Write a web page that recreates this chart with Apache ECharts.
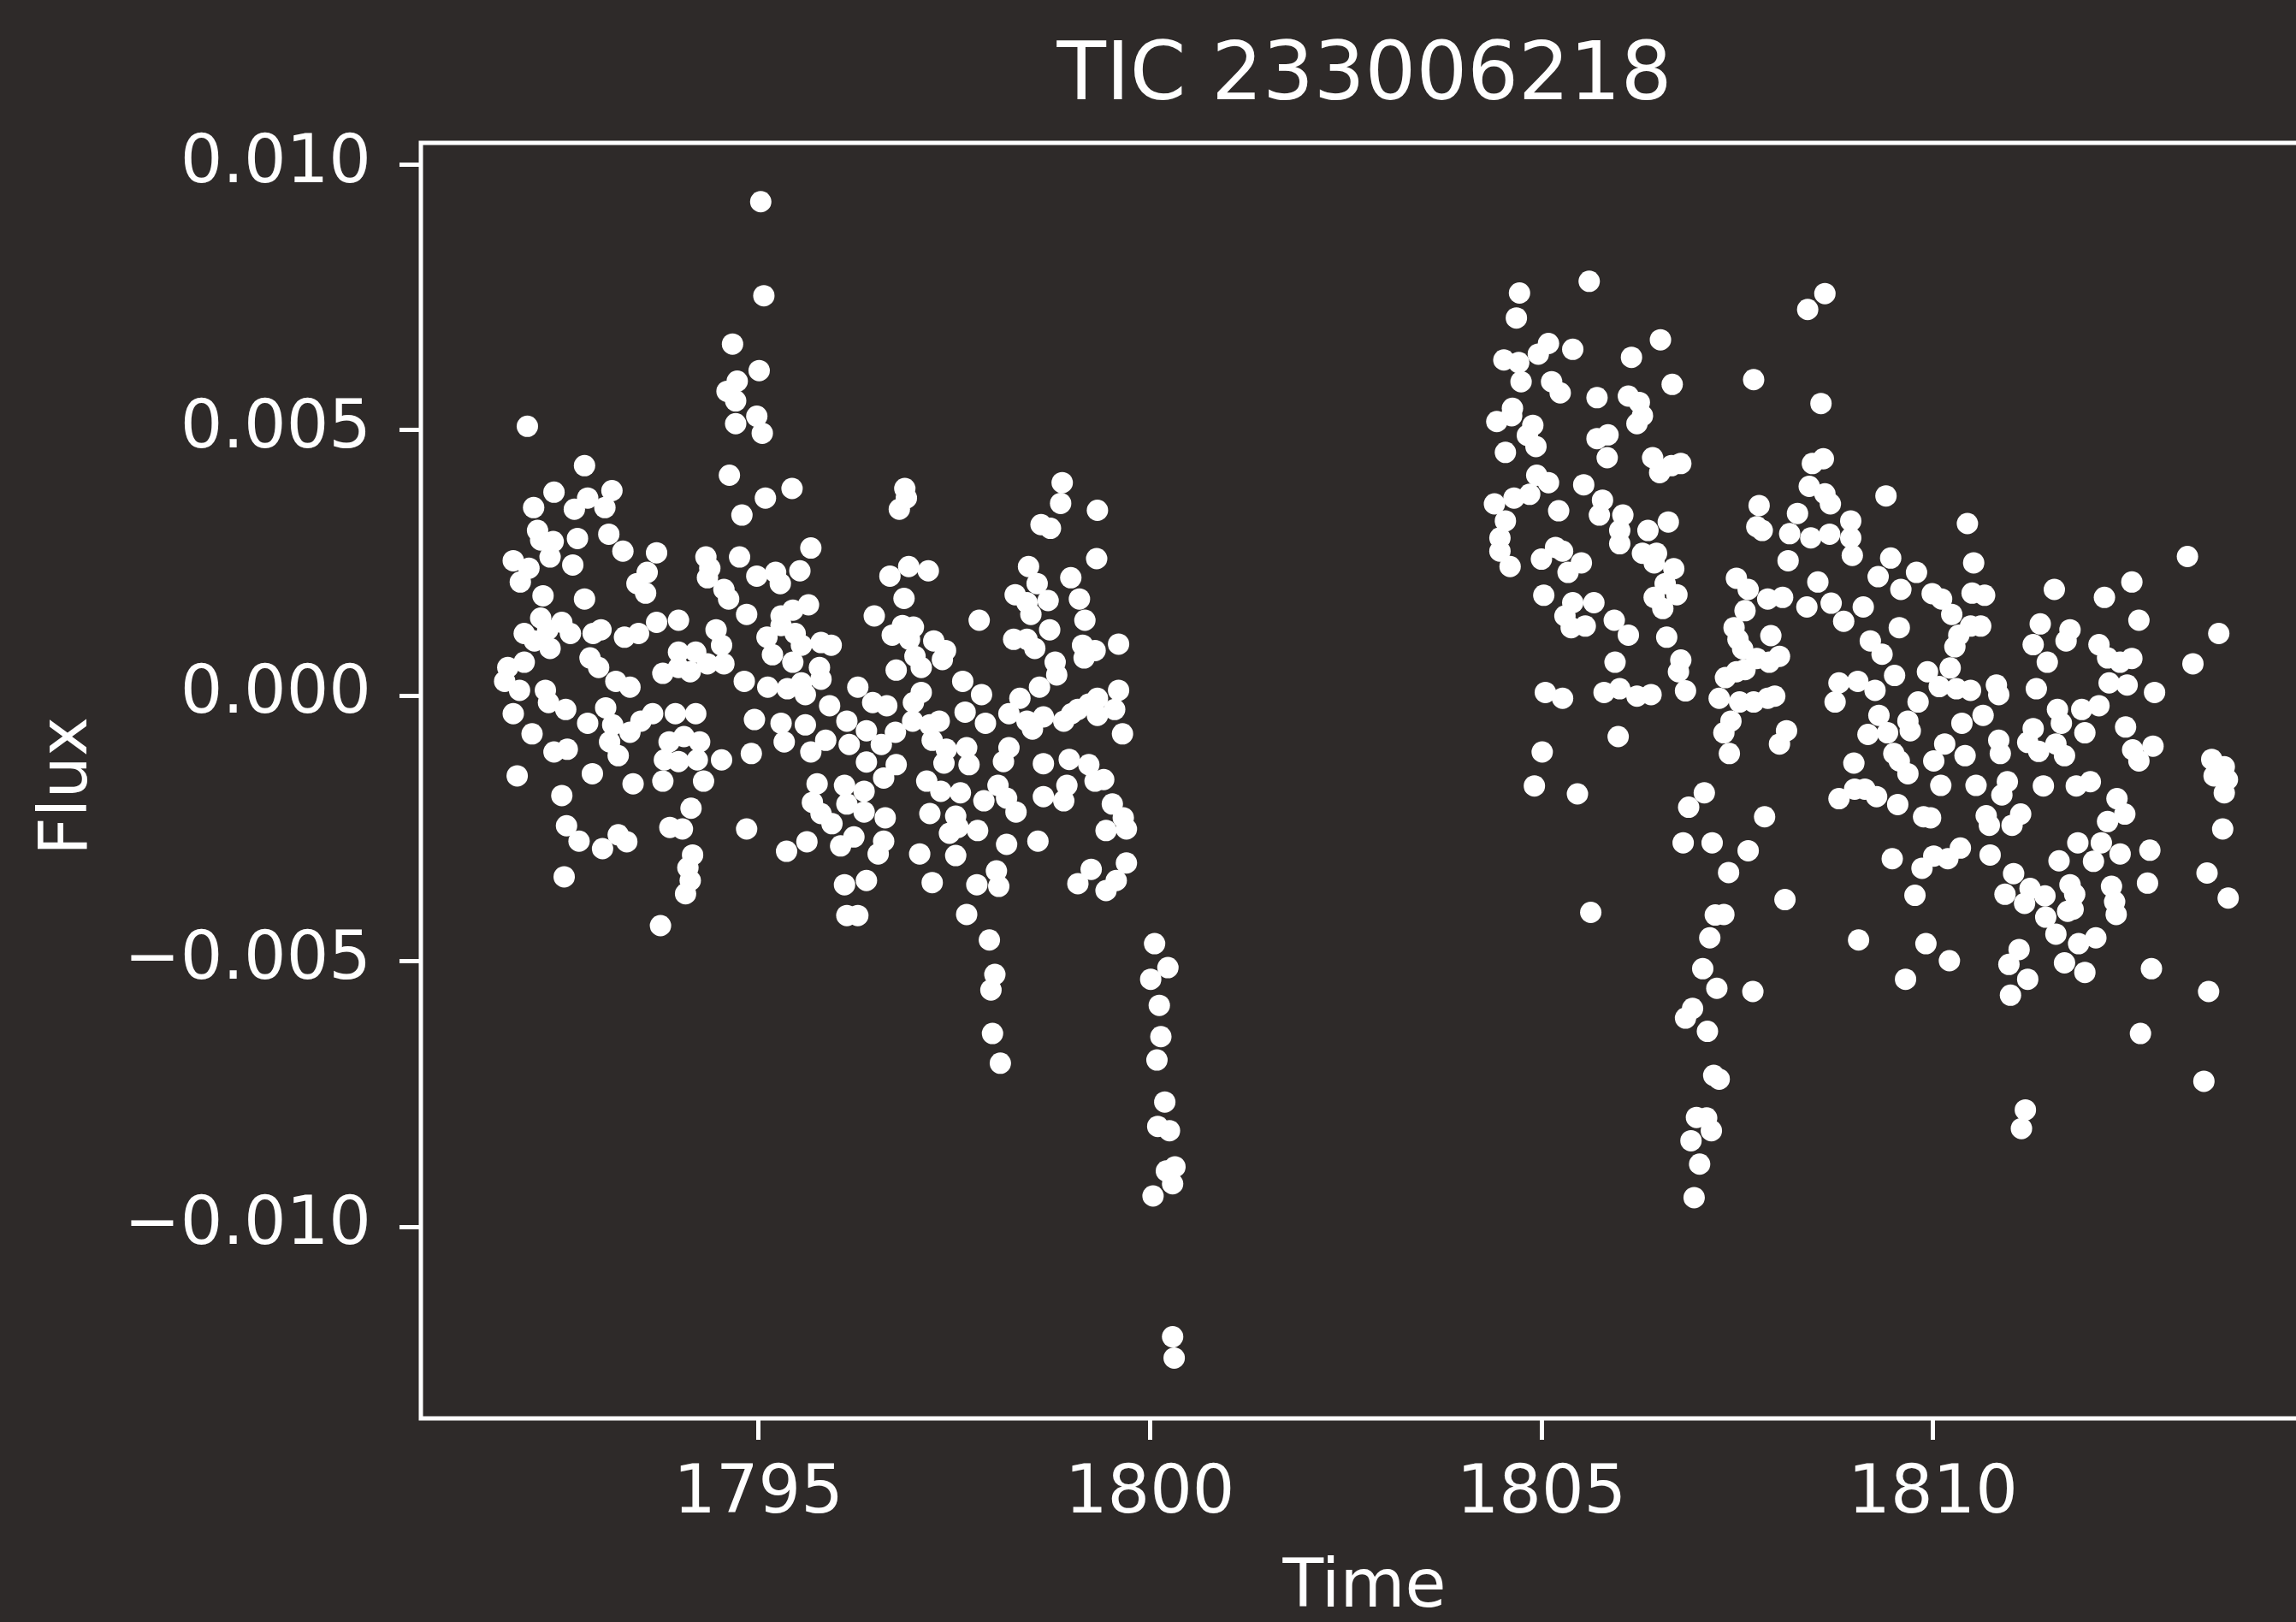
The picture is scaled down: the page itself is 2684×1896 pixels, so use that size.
<!DOCTYPE html>
<html>
<head>
<meta charset="utf-8">
<script src="https://cdn.jsdelivr.net/npm/echarts@6/dist/echarts.min.js"></script>
<style>
  html, body { margin: 0; padding: 0; background: #2e2a29; overflow: hidden; }
  #main { width: 2720px; height: 1896px; }
</style>
</head>
<body>
<div id="main"></div>
<script>
// ---- Data (Time, Flux) ----
const chartTitle = 'TIC 233006218';
const xTickValues = [1795, 1800, 1805, 1810];
const yTickValues = [-0.01, -0.005, 0, 0.005, 0.01];

// first orbit
const orbit1 = [
[1795.03,0.0093],[1795.07,0.00753],[1794.67,0.00662],[1795.01,0.00612],[1794.60,0.00573],[1794.73,0.00592],
[1794.71,0.00555],[1794.98,0.00526],[1794.71,0.00512],[1795.05,0.00494],[1792.05,0.00507],[1794.63,0.00415],
[1795.09,0.00372],[1795.43,0.00390],[1794.79,0.00340],[1792.78,0.00433],[1792.39,0.00383],[1792.13,0.00354],
[1792.65,0.00351],[1792.82,0.00372],[1793.13,0.00386],[1793.04,0.00354],[1792.18,0.00311],[1792.22,0.00293],
[1792.38,0.00290],[1792.34,0.00261],[1792.69,0.00296],[1793.09,0.00304],[1793.27,0.00272],[1793.70,0.00269],
[1791.87,0.00254],[1792.07,0.00240],[1791.96,0.00214],[1792.63,0.00246],[1793.58,0.00232],[1793.45,0.00211],
[1793.56,0.00193],[1794.33,0.00261],[1794.38,0.00240],[1794.35,0.00222],[1794.76,0.00261],[1794.56,0.00200],
[1794.62,0.00182],[1794.98,0.00225],[1795.22,0.00232],[1795.28,0.00211],[1795.53,0.00235],[1795.67,0.00278],
[1792.25,0.00188],[1792.78,0.00182],[1794.85,0.00153],[1795.64,0.00171],[1795.44,0.00161],[1795.29,0.00150],
[1792.01,0.00117],[1792.22,0.00146],[1792.31,0.00124],[1792.49,0.00138],[1792.60,0.00117],[1792.34,0.00089],
[1792.14,0.00103],[1792.89,0.00117],[1792.99,0.00124],[1793.29,0.00110],[1793.47,0.00117],[1793.70,0.00138],
[1793.98,0.00142],[1794.46,0.00124],[1794.53,0.00095],[1793.98,0.00082],[1794.20,0.00082],[1794.35,0.00060],
[1794.56,0.00060],[1793.78,0.00042],[1793.98,0.00053],[1794.13,0.00045],[1795.11,0.00110],[1795.29,0.00132],
[1795.47,0.00117],[1795.55,0.00095],[1795.18,0.00077],[1795.44,0.00063],[1795.80,0.00100],[1795.93,0.00095],
[1795.78,0.00053],[1795.80,0.00031],[1791.80,0.00053],[1792.01,0.00063],[1791.76,0.00027],[1791.95,0.00010],
[1792.28,0.00010],[1792.32,-0.00013],[1792.54,-0.00026],[1792.85,0.00071],[1792.96,0.00053],[1793.18,0.00027],
[1793.36,0.00016],[1794.82,0.00027],[1795.12,0.00016],[1795.37,0.00013],[1795.55,0.00024],[1795.60,0.00002],
[1791.87,-0.00034],[1792.11,-0.00072],[1792.39,-0.00106],[1792.56,-0.00101],[1792.82,-0.00052],[1793.05,-0.00023],
[1793.14,-0.00055],[1793.10,-0.00087],[1793.21,-0.00113],[1793.36,-0.00069],[1793.50,-0.00048],[1793.65,-0.00034],
[1793.94,-0.00034],[1794.20,-0.00034],[1793.86,-0.00087],[1794.05,-0.00077],[1794.25,-0.00087],[1793.80,-0.00121],
[1793.98,-0.00124],[1794.22,-0.00121],[1794.53,-0.00121],[1794.95,-0.00045],[1795.29,-0.00052],[1795.33,-0.00087],
[1795.60,-0.00055],[1794.91,-0.00109],[1795.67,-0.00106],[1795.86,-0.00084],[1795.91,-0.00019],
[1796.87,0.00390],[1796.89,0.00372],[1796.80,0.00351],[1798.88,0.00401],[1798.86,0.00362],[1799.33,0.00349],
[1798.61,0.00322],[1798.73,0.00315],[1799.32,0.00258],[1796.68,0.00225],[1796.92,0.00243],[1797.17,0.00235],
[1798.45,0.00243],[1798.56,0.00211],[1798.99,0.00222],[1796.86,0.00183],[1796.48,0.00150],[1797.82,0.00142],
[1798.28,0.00190],[1798.43,0.00175],[1798.48,0.00153],[1798.70,0.00179],[1799.10,0.00182],[1799.17,0.00142],
[1798.72,0.00124],[1796.71,0.00114],[1796.84,0.00132],[1796.98,0.00129],[1796.93,0.00106],[1797.24,0.00103],
[1797.39,0.00085],[1797.35,0.00068],[1798.26,0.00106],[1798.43,0.00106],[1798.53,0.00089],[1799.14,0.00095],
[1799.30,0.00085],[1799.16,0.00071],[1799.60,0.00097],[1797.00,0.00074],[1797.08,0.00053],[1796.76,0.00048],
[1798.79,0.00063],[1798.81,0.00039],[1798.59,0.00016],[1796.27,0.00016],[1796.46,-0.00013],[1796.64,-0.00019],
[1797.08,0.00006],[1796.98,-0.00013],[1797.61,0.00027],[1797.85,0.00002],[1797.64,-0.00031],[1797.90,-0.00052],
[1798.34,-0.00005],[1798.20,-0.00034],[1798.50,-0.00052],[1798.64,-0.00040],[1799.08,-0.00026],[1799.33,-0.00005],
[1799.22,-0.00016],[1799.60,0.00010],[1799.55,-0.00026],[1799.33,-0.00037],[1799.65,-0.00072],[1796.13,-0.00048],
[1796.38,-0.00066],[1796.16,-0.00092],[1796.57,-0.00092],[1796.75,-0.00069],[1796.97,-0.00048],[1797.19,-0.00055],
[1797.31,-0.00048],[1797.22,-0.00084],[1797.40,-0.00101],[1797.66,-0.00098],[1798.20,-0.00098],[1798.50,-0.00063],
[1798.43,-0.00048],[1798.90,-0.00048],[1799.00,-0.00034],[1796.38,-0.00125],[1796.76,-0.00130],[1797.37,-0.00127],
[1797.69,-0.00130],[1798.13,-0.00124],[1798.64,-0.00128],[1798.97,-0.00120],[1799.22,-0.00130],
[1791.92,-0.00151],[1792.88,-0.00147],[1793.40,-0.00166],[1793.78,-0.00161],[1794.30,-0.00161],[1792.49,-0.00188],
[1792.55,-0.00245],[1792.71,-0.00274],[1793.01,-0.00288],[1793.21,-0.00262],[1793.32,-0.00275],[1792.52,-0.00341],
[1794.14,-0.00212],[1793.87,-0.00248],[1794.03,-0.00251],[1794.16,-0.00300],[1794.10,-0.00324],[1794.13,-0.00348],
[1794.07,-0.00373],[1793.75,-0.00433],[1794.85,-0.00251],[1795.36,-0.00293],[1795.62,-0.00275],[1795.75,-0.00166],
[1795.69,-0.00201],[1795.80,-0.00222],[1795.94,-0.00241],
[1796.10,-0.00169],[1796.13,-0.00204],[1796.05,-0.00283],[1796.22,-0.00266],[1796.10,-0.00356],[1796.38,-0.00348],
[1796.13,-0.00414],[1796.27,-0.00414],[1796.35,-0.00180],[1796.60,-0.00155],[1796.35,-0.00219],[1796.62,-0.00230],
[1796.60,-0.00274],[1796.53,-0.00298],[1797.06,-0.00298],[1797.22,-0.00352],[1797.15,-0.00161],[1797.33,-0.00180],
[1797.58,-0.00183],[1797.19,-0.00222],[1797.52,-0.00227],[1797.44,-0.00259],[1797.55,-0.00248],[1797.80,-0.00254],
[1797.52,-0.00301],[1797.88,-0.00198],[1798.06,-0.00169],[1798.17,-0.00193],[1798.29,-0.00219],[1798.17,-0.00280],
[1798.57,-0.00274],[1798.64,-0.00190],[1798.90,-0.00198],[1798.94,-0.00169],[1799.30,-0.00161],[1799.41,-0.00158],
[1799.52,-0.00204],[1799.66,-0.00230],[1799.70,-0.00251],[1799.44,-0.00254],[1798.04,-0.00330],[1798.07,-0.00359],
[1797.79,-0.00356],[1797.66,-0.00412],[1797.95,-0.00460],[1798.02,-0.00525],[1797.97,-0.00554],[1797.99,-0.00636],
[1798.09,-0.00692],[1799.08,-0.00354],[1799.25,-0.00327],[1799.44,-0.00367],[1799.57,-0.00348],[1799.70,-0.00315],
[1800.06,-0.00467],[1800.23,-0.00512],[1800.01,-0.00534],[1800.12,-0.00583],[1800.14,-0.00642],[1800.09,-0.00686],
[1800.19,-0.00765],[1800.10,-0.00811],[1800.25,-0.00819],[1800.32,-0.00887],[1800.21,-0.00895],[1800.29,-0.00919],
[1800.04,-0.00942],[1800.29,-0.01207],[1800.31,-0.01247]
];

// second orbit
const orbit2 = [
[1804.72,0.00758],[1804.68,0.00711],[1805.61,0.00780],[1806.52,0.00670],[1806.15,0.00637],[1805.40,0.00652],
[1805.09,0.00663],[1804.96,0.00643],[1804.52,0.00632],[1804.71,0.00627],[1804.74,0.00591],[1805.13,0.00591],
[1805.24,0.00570],[1805.71,0.00561],[1806.11,0.00564],[1806.25,0.00552],[1806.29,0.00527],[1806.22,0.00512],
[1806.67,0.00586],[1804.63,0.00541],[1804.43,0.00516],[1804.62,0.00527],[1804.89,0.00509],[1804.93,0.00469],
[1804.82,0.00490],[1804.54,0.00458],[1805.71,0.00484],[1805.85,0.00491],[1805.84,0.00448],[1806.42,0.00448],
[1806.51,0.00420],[1806.78,0.00437],[1806.66,0.00433],[1804.94,0.00415],[1805.09,0.00401],[1805.54,0.00397],
[1804.40,0.00361],[1804.65,0.00372],[1804.85,0.00379],[1804.54,0.00329],[1804.47,0.00297],[1804.47,0.00272],
[1804.60,0.00243],[1805.22,0.00348],[1805.78,0.00368],[1805.74,0.00340],[1806.04,0.00340],[1806.00,0.00311],
[1806.00,0.00286],[1806.36,0.00311],[1806.62,0.00327],[1806.29,0.00268],[1806.47,0.00268],[1806.44,0.00250],
[1806.69,0.00239],[1806.58,0.00211],[1806.73,0.00190],[1806.44,0.00185],[1806.55,0.00164],[1805.00,0.00257],
[1805.18,0.00279],[1805.27,0.00272],[1805.34,0.00232],[1805.51,0.00250],[1805.03,0.00189],[1805.40,0.00175],
[1805.30,0.00150],[1805.38,0.00128],[1805.56,0.00131],[1805.67,0.00175],[1805.93,0.00142],[1806.11,0.00114],
[1806.60,0.00110],[1805.94,0.00063],[1806.78,0.00067],[1806.75,0.00045],[1806.84,0.00009],[1805.05,0.00006],
[1805.27,-0.00005],[1805.80,0.00006],[1806.00,0.00013],[1806.22,-0.00001],[1806.40,0.00002],[1805.98,-0.00077],
[1805.01,-0.00106],[1808.62,0.00757],[1808.40,0.00727],[1807.71,0.00595],[1808.57,0.00550],[1808.60,0.00446],
[1808.46,0.00437],[1808.42,0.00394],[1808.62,0.00380],[1808.69,0.00361],[1807.78,0.00358],[1807.75,0.00318],
[1807.82,0.00311],[1808.27,0.00343],[1808.17,0.00305],[1808.44,0.00297],[1808.68,0.00304],[1808.95,0.00329],
[1808.95,0.00297],[1808.97,0.00264],[1808.15,0.00254],[1807.49,0.00221],[1807.64,0.00200],[1807.89,0.00182],
[1808.08,0.00185],[1808.53,0.00214],[1808.39,0.00167],[1808.70,0.00174],[1808.86,0.00140],[1807.60,0.00160],
[1807.46,0.00128],[1807.51,0.00106],[1807.57,0.00088],[1807.93,0.00113],[1807.75,0.00070],[1807.91,0.00063],
[1808.04,0.00074],[1807.35,0.00034],[1807.49,0.00045],[1807.60,0.00049],[1807.27,-0.00005],[1807.53,-0.00012],
[1807.71,-0.00012],[1807.89,-0.00005],[1807.98,-0.00001],[1808.80,0.00024],[1808.75,-0.00012],[1807.42,-0.00048],
[1807.33,-0.00070],[1807.40,-0.00109],[1808.13,-0.00066],[1808.04,-0.00091],[1808.99,-0.00127],
[1809.40,0.00376],[1810.44,0.00324],[1810.52,0.00250],[1809.46,0.00259],[1809.30,0.00224],[1809.59,0.00200],
[1809.79,0.00232],[1809.99,0.00192],[1810.11,0.00182],[1810.24,0.00153],[1810.50,0.00193],[1810.66,0.00189],
[1809.11,0.00167],[1809.57,0.00128],[1809.20,0.00103],[1809.35,0.00078],[1810.48,0.00131],[1810.61,0.00131],
[1810.33,0.00114],[1810.28,0.00092],[1809.51,0.00038],[1809.26,0.00010],[1809.04,0.00027],[1809.93,0.00045],
[1810.22,0.00052],[1810.08,0.00017],[1810.30,0.00013],[1810.48,0.00010],[1810.81,0.00020],[1810.84,0.00002],
[1809.81,-0.00012],[1809.31,-0.00037],[1809.17,-0.00073],[1809.42,-0.00070],[1809.68,-0.00048],[1809.71,-0.00066],
[1810.37,-0.00052],[1810.64,-0.00037],[1810.15,-0.00091],[1809.50,-0.00109],[1809.57,-0.00123],[1810.41,-0.00113],
[1810.01,-0.00123],[1810.84,-0.00084],[1810.86,-0.00109],[1811.55,0.00200],[1811.37,0.00135],[1811.28,0.00096],
[1811.46,0.00063],[1811.75,0.00124],[1811.70,0.00103],[1811.32,0.00013],[1812.19,0.00185],[1812.54,0.00214],
[1813.25,0.00262],[1812.63,0.00142],[1813.65,0.00117],[1813.32,0.00060],[1812.12,0.00096],[1812.23,0.00071],
[1812.39,0.00063],[1812.54,0.00070],[1812.25,0.00024],[1812.48,0.00020],[1812.83,0.00006],[1811.59,-0.00026],
[1811.90,-0.00026],[1812.12,-0.00019],[1811.64,-0.00052],[1811.94,-0.00070],[1811.28,-0.00062],[1811.21,-0.00088],
[1811.35,-0.00105],[1811.57,-0.00091],[1811.68,-0.00113],[1812.46,-0.00059],[1812.55,-0.00102],[1812.81,-0.00095],
[1812.63,-0.00123],[1813.56,-0.00120],[1813.72,-0.00134],
[1804.91,-0.00170],[1805.46,-0.00185],[1805.63,-0.00408],[1807.08,-0.00183],[1806.88,-0.00210],[1806.81,-0.00277],
[1807.18,-0.00277],[1807.64,-0.00292],[1807.39,-0.00333],[1807.85,-0.00228],[1808.11,-0.00384],[1808.80,-0.00194],
[1809.00,-0.00176],[1809.05,-0.00460],[1807.22,-0.00413],[1807.33,-0.00412],[1807.15,-0.00456],[1807.06,-0.00514],
[1807.24,-0.00551],[1807.70,-0.00557],[1806.93,-0.00589],[1806.84,-0.00607],[1807.12,-0.00632],[1807.20,-0.00715],
[1807.27,-0.00722],[1806.98,-0.00794],[1807.11,-0.00795],[1807.17,-0.00819],[1806.91,-0.00838],[1807.02,-0.00882],
[1806.95,-0.00945],
[1809.13,-0.00176],[1809.28,-0.00190],[1809.55,-0.00205],[1809.68,-0.00147],[1809.88,-0.00228],[1809.97,-0.00230],
[1810.10,-0.00169],[1810.55,-0.00169],[1810.88,-0.00187],[1810.95,-0.00162],[1810.68,-0.00226],[1810.72,-0.00244],
[1811.01,-0.00244],[1811.12,-0.00223],[1811.41,-0.00170],[1811.83,-0.00170],[1812.01,-0.00162],[1812.35,-0.00194],
[1812.45,-0.00223],[1812.23,-0.00237],[1812.15,-0.00277],[1811.85,-0.00277],[1812.05,-0.00312],[1812.39,-0.00298],
[1812.77,-0.00291],[1812.74,-0.00353],[1811.61,-0.00311],[1809.48,-0.00307],[1809.86,-0.00325],[1810.01,-0.00302],
[1810.19,-0.00307],[1810.35,-0.00287],[1809.77,-0.00376],[1810.73,-0.00300],[1811.03,-0.00335],[1810.92,-0.00374],
[1811.17,-0.00391],[1811.24,-0.00363],[1811.43,-0.00377],[1811.44,-0.00417],[1811.57,-0.00449],[1811.75,-0.00356],
[1811.81,-0.00374],[1811.72,-0.00406],[1811.79,-0.00402],[1812.28,-0.00359],[1812.32,-0.00388],[1812.34,-0.00412],
[1811.86,-0.00467],[1812.08,-0.00456],[1811.68,-0.00503],[1811.94,-0.00521],[1809.91,-0.00467],[1810.21,-0.00499],
[1809.65,-0.00534],[1811.10,-0.00478],[1810.97,-0.00506],[1811.21,-0.00534],[1810.99,-0.00564],[1812.79,-0.00514],
[1813.52,-0.00557],[1812.65,-0.00636],[1813.46,-0.00726],[1811.18,-0.00780],[1811.13,-0.00815],[1813.50,-0.00334],
[1813.77,-0.00381],[1813.70,-0.00251],[1813.72,-0.00183],[1813.76,-0.00158],[1813.59,-0.00151]
];

// ---- Chart ----
const BG = '#2e2a29';
const FG = '#ffffff';
const FONT = 'DejaVu Sans';
const chart = echarts.init(document.getElementById('main'), null, { renderer: 'canvas' });

const fmtY = v => {
  if (Math.abs(v) < 1e-12) return '0.000';
  return (v < 0 ? '\u2212' : '') + Math.abs(v).toFixed(3);
};

chart.setOption({
  animation: false,
  backgroundColor: BG,
  grid: {
    left: 492, top: 167, width: 2207, height: 1491,
    show: true, borderColor: FG, borderWidth: 5, backgroundColor: 'transparent'
  },
  graphic: [
    { type: 'text', x: 1595, y: 92, silent: true,
      style: { text: chartTitle, fill: FG, font: '94px "DejaVu Sans"', textAlign: 'center', textVerticalAlign: 'middle', align: 'center', verticalAlign: 'middle' } },
    { type: 'text', x: 1595, y: 1858, silent: true,
      style: { text: 'Time', fill: FG, font: '78px "DejaVu Sans"', textAlign: 'center', textVerticalAlign: 'middle', align: 'center', verticalAlign: 'middle' } },
    { type: 'text', x: 81, y: 919, rotation: Math.PI / 2, silent: true,
      style: { text: 'Flux', fill: FG, font: '78px "DejaVu Sans"', textAlign: 'center', textVerticalAlign: 'middle', align: 'center', verticalAlign: 'middle' } }
  ],
  xAxis: {
    type: 'value',
    min: 1790.69, max: 1814.80,
    axisLine: { show: false, onZero: false },
    splitLine: { show: false },
    axisTick: { show: true, inside: false, length: 25, customValues: xTickValues, lineStyle: { color: FG, width: 5 } },
    axisLabel: { show: true, margin: 51, customValues: xTickValues, color: FG, fontFamily: FONT, fontSize: 78,
      formatter: v => String(Math.round(v)) }
  },
  yAxis: {
    type: 'value',
    min: -0.013607, max: 0.010407,
    axisLine: { show: false, onZero: false },
    splitLine: { show: false },
    axisTick: { show: true, inside: false, length: 25, customValues: yTickValues, lineStyle: { color: FG, width: 5 } },
    axisLabel: { show: true, margin: 58, customValues: yTickValues, color: FG, fontFamily: FONT, fontSize: 78,
      formatter: fmtY }
  },
  series: [
    { type: 'scatter', name: 'orbit 1', data: orbit1, symbol: 'circle', symbolSize: 25,
      itemStyle: { color: FG, opacity: 1 }, emphasis: { disabled: true } },
    { type: 'scatter', name: 'orbit 2', data: orbit2, symbol: 'circle', symbolSize: 25,
      itemStyle: { color: FG, opacity: 1 }, emphasis: { disabled: true } }
  ]
});
</script>
</body>
</html>
